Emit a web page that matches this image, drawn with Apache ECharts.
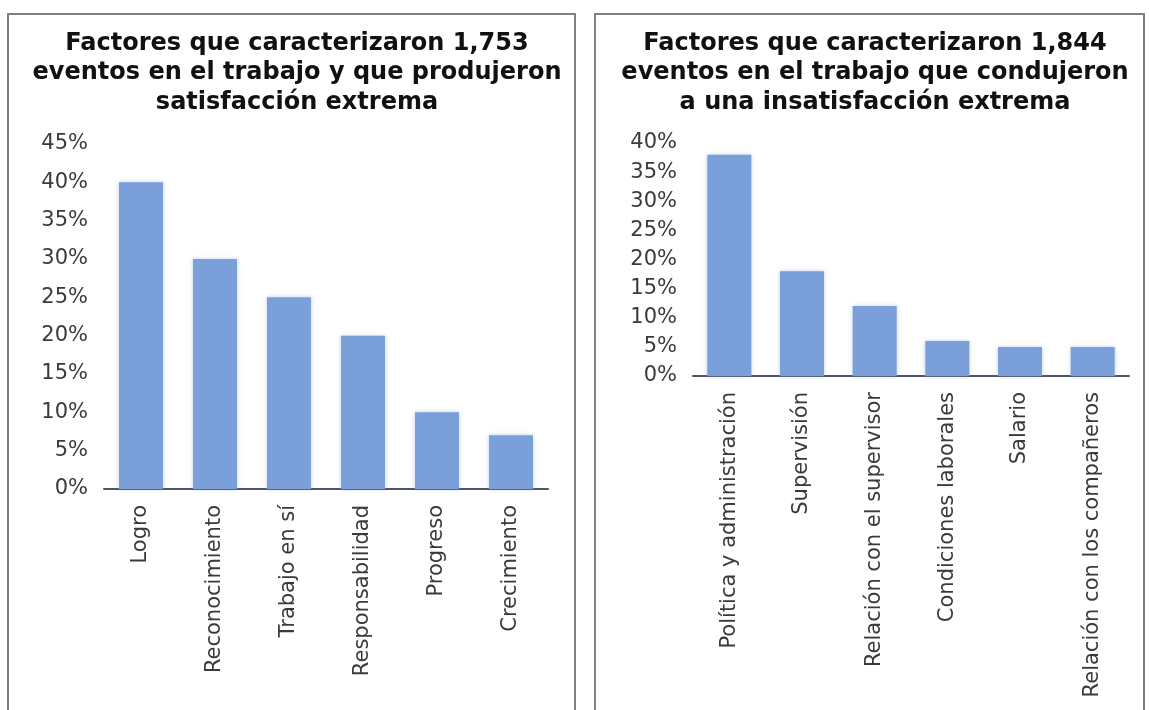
<!DOCTYPE html>
<html>
<head>
<meta charset="utf-8">
<script src="https://cdn.jsdelivr.net/npm/echarts@6/dist/echarts.min.js"></script>
<style>
  html, body { margin: 0; padding: 0; background: #fff; }
  #chart { width: 1149px; height: 710px; }
</style>
</head>
<body>
<div id="chart"></div>
<script>
// Factores de satisfacción extrema (porcentaje de 1,753 eventos)
const satisfaccionCategorias = ['Logro', 'Reconocimiento', 'Trabajo en sí', 'Responsabilidad', 'Progreso', 'Crecimiento'];
const satisfaccionValores = [40, 30, 25, 20, 10, 7];

// Factores de insatisfacción extrema (porcentaje de 1,844 eventos)
const insatisfaccionCategorias = ['Política y administración', 'Supervisión', 'Relación con el supervisor', 'Condiciones laborales', 'Salario', 'Relación con los compañeros'];
const insatisfaccionValores = [38, 18, 12, 6, 5, 5];

const tituloIzq = 'Factores que caracterizaron 1,753\neventos en el trabajo y que produjeron\nsatisfacción extrema';
const tituloDer = 'Factores que caracterizaron 1,844\neventos en el trabajo que condujeron\na una insatisfacción extrema';

const barColor = '#7b9fd8';
const axisColor = '#4f5666';
const labelFont = '"DejaVu Sans", sans-serif';
const titleFont = '"DejaVu Sans", sans-serif';

const chart = echarts.init(document.getElementById('chart'), null, { renderer: 'canvas' });

const titleStyle = {
  fontFamily: titleFont,
  fontWeight: 'bold',
  fontSize: 24,
  lineHeight: 29.5,
  color: '#111'
};

function yAxis(gridIndex, max) {
  return {
    type: 'value', gridIndex, min: 0, max, interval: 5,
    axisLine: { show: false }, axisTick: { show: false },
    splitLine: { show: false },
    axisLabel: {
      formatter: '{value}%', fontFamily: labelFont, fontSize: 21,
      color: '#3a3a3a', margin: 16
    }
  };
}

function xAxis(gridIndex, data) {
  return {
    type: 'category', gridIndex, data,
    axisLine: { lineStyle: { color: axisColor, width: 2 } },
    axisTick: { show: false },
    axisLabel: {
      rotate: 90, interval: 0, fontFamily: labelFont, fontSize: 21,
      color: '#3a3a3a', margin: 16
    }
  };
}

function barSeries(idx, data) {
  return {
    type: 'bar', xAxisIndex: idx, yAxisIndex: idx, data,
    barWidth: 44,
    itemStyle: { color: barColor, shadowColor: 'rgba(123,159,216,0.5)', shadowBlur: 4 },
    silent: true
  };
}

chart.setOption({
  animation: false,
  backgroundColor: '#fff',
  graphic: [
    { type: 'rect', shape: { x: 8, y: 14, width: 567, height: 710 },
      style: { fill: 'none', stroke: '#808080', lineWidth: 2 } },
    { type: 'rect', shape: { x: 595, y: 14, width: 549, height: 710 },
      style: { fill: 'none', stroke: '#808080', lineWidth: 2 } }
  ],
  title: [
    { text: tituloIzq, left: 292, top: 24, textAlign: 'center', textStyle: titleStyle },
    { text: tituloDer, left: 870, top: 24, textAlign: 'center', textStyle: titleStyle }
  ],
  grid: [
    { left: 104, right: 601, top: 144, bottom: 221 },
    { left: 693, right: 20, top: 143, bottom: 334 }
  ],
  xAxis: [xAxis(0, satisfaccionCategorias), xAxis(1, insatisfaccionCategorias)],
  yAxis: [yAxis(0, 45), yAxis(1, 40)],
  series: [barSeries(0, satisfaccionValores), barSeries(1, insatisfaccionValores)]
});
</script>
</body>
</html>
